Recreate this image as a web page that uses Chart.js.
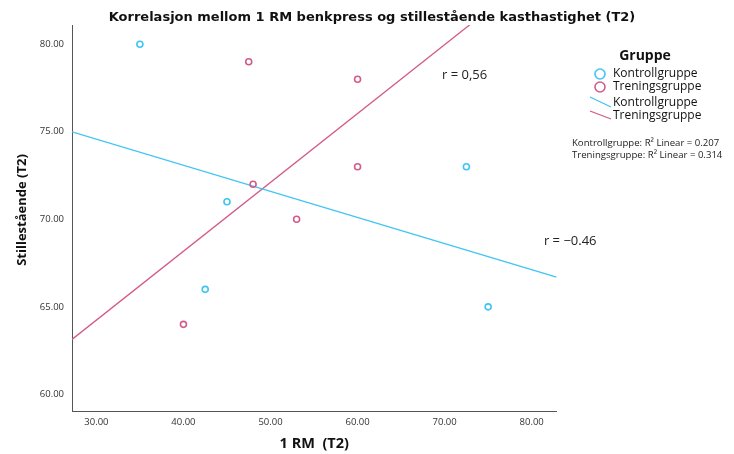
<!DOCTYPE html>
<html>
<head>
<meta charset="utf-8">
<script src="https://cdn.jsdelivr.net/npm/chart.js@4"></script>
<style>
  html, body { margin: 0; padding: 0; background: #fff; }
  #wrap { position: relative; width: 734px; height: 454px; }
</style>
</head>
<body>
<div id="wrap"><canvas id="c" width="734" height="454"></canvas></div>
<script>
// Group observations: 1 RM bench press (x) vs standing throwing velocity (y)
const kontrollX = [35, 42.5, 45, 72.5, 75];
const kontrollY = [80, 66, 71, 73, 65];
const treningX = [40, 47.5, 48, 53, 60, 60];
const treningY = [64, 79, 72, 70, 78, 73];

const xTicks = [30, 40, 50, 60, 70, 80];
const yTicks = [60, 65, 70, 75, 80];

const groupNames = ['Kontrollgruppe', 'Treningsgruppe'];
const rLabels = ['r = 0,56', 'r = \u22120.46'];
const r2Labels = ['Kontrollgruppe: R\u00B2 Linear = 0.207', 'Treningsgruppe: R\u00B2 Linear = 0.314'];

const titleText = 'Korrelasjon mellom 1 RM benkpress og stillest\u00E5ende kasthastighet (T2)';
const xTitle = '1 RM  (T2)';
const yTitle = 'Stillest\u00E5ende (T2)';

const CYAN = '#3fc4f4';
const MAGENTA = '#d25b8a';
const X_MIN = 27.2, X_MAX = 82.85;
const Y_MIN = 59.05, Y_MAX = 81.1;

function pairs(xs, ys) { return xs.map((x, i) => ({ x: x, y: ys[i] })); }

// Least-squares fit across the full x range of the axis
function fitLine(xs, ys) {
  const n = xs.length;
  const mx = xs.reduce((a, b) => a + b, 0) / n;
  const my = ys.reduce((a, b) => a + b, 0) / n;
  let sxy = 0, sxx = 0;
  for (let i = 0; i < n; i++) { sxy += (xs[i] - mx) * (ys[i] - my); sxx += (xs[i] - mx) ** 2; }
  const b = sxy / sxx, a = my - b * mx;
  return [{ x: X_MIN, y: a + b * X_MIN }, { x: X_MAX, y: a + b * X_MAX }];
}

const FONT = '"Open Sans", "DejaVu Sans", sans-serif';
const TFONT = '"DejaVu Sans", sans-serif';

const annotate = {
  id: 'annotate',
  afterDraw(chart) {
    const ctx = chart.ctx;
    const xs = chart.scales.x, ys = chart.scales.y;
    ctx.save();
    ctx.textBaseline = 'middle';

    // Title
    ctx.fillStyle = '#111';
    ctx.font = 'bold 13px ' + TFONT;
    ctx.textAlign = 'center';
    ctx.fillText(titleText, 372, 18);

    // Axis titles
    ctx.font = 'bold 14.5px ' + FONT;
    ctx.fillText(xTitle, (chart.chartArea.left + chart.chartArea.right) / 2, 444);
    ctx.save();
    ctx.translate(22, 210);
    ctx.rotate(-Math.PI / 2);
    ctx.font = 'bold 13px ' + FONT;
    ctx.fillText(yTitle, 0, 0);
    ctx.restore();

    // Correlation labels
    ctx.font = '13px ' + FONT;
    ctx.fillStyle = '#222';
    ctx.textAlign = 'left';
    ctx.fillText(rLabels[0], xs.getPixelForValue(69.7), ys.getPixelForValue(78.2));
    ctx.fillText(rLabels[1], xs.getPixelForValue(81.4), ys.getPixelForValue(68.74));

    // Legend
    ctx.fillStyle = '#111';
    ctx.font = 'bold 14px ' + FONT;
    ctx.textAlign = 'center';
    ctx.fillText('Gruppe', 645, 56);
    ctx.textAlign = 'left';
    ctx.font = '12px ' + FONT;
    const colors = [CYAN, MAGENTA];
    const rows = [74, 87];
    for (let i = 0; i < 2; i++) {
      ctx.strokeStyle = colors[i];
      ctx.lineWidth = 1.6;
      ctx.beginPath();
      ctx.arc(600, rows[i], 5, 0, Math.PI * 2);
      ctx.stroke();
      ctx.fillText(groupNames[i], 613, rows[i]);
    }
    const lineRows = [[97, 107, 103], [111, 119, 116]];
    for (let i = 0; i < 2; i++) {
      ctx.strokeStyle = colors[i];
      ctx.lineWidth = 1.3;
      ctx.beginPath();
      ctx.moveTo(590, lineRows[i][0]);
      ctx.lineTo(611, lineRows[i][1]);
      ctx.stroke();
      ctx.fillText(groupNames[i], 613, lineRows[i][2]);
    }
    ctx.font = '9.6px ' + FONT;
    ctx.fillStyle = '#222';
    ctx.fillText(r2Labels[0], 572, 143);
    ctx.fillText(r2Labels[1], 572, 155);
    ctx.restore();
  }
};

new Chart(document.getElementById('c'), {
  type: 'scatter',
  data: {
    datasets: [
      { label: groupNames[0], data: pairs(kontrollX, kontrollY), borderColor: CYAN, backgroundColor: 'rgba(0,0,0,0)',
        pointRadius: 3, pointBorderWidth: 1.6, pointHoverRadius: 3, order: 0 },
      { label: groupNames[1], data: pairs(treningX, treningY), borderColor: MAGENTA, backgroundColor: 'rgba(0,0,0,0)',
        pointRadius: 3, pointBorderWidth: 1.6, pointHoverRadius: 3, order: 0 },
      { type: 'line', label: groupNames[0], data: fitLine(kontrollX, kontrollY), borderColor: CYAN,
        borderWidth: 1.3, pointRadius: 0, fill: false, order: 1 },
      { type: 'line', label: groupNames[1], data: fitLine(treningX, treningY), borderColor: MAGENTA,
        borderWidth: 1.3, pointRadius: 0, fill: false, order: 1 }
    ]
  },
  options: {
    responsive: false,
    animation: false,
    events: [],
    layout: { padding: { top: 25, right: 177.5, bottom: 0, left: 0 } },
    plugins: { legend: { display: false }, title: { display: false }, tooltip: { enabled: false } },
    scales: {
      x: {
        type: 'linear', min: X_MIN, max: X_MAX,
        afterBuildTicks: s => { s.ticks = xTicks.map(v => ({ value: v })); },
        afterFit: s => { s.height = 43; },
        grid: { drawOnChartArea: false, drawTicks: false },
        border: { display: true, color: '#555', width: 1 },
        ticks: { padding: 6, color: '#333', font: { family: FONT, size: 9.5 }, maxRotation: 0,
                 callback: v => v.toFixed(2) }
      },
      y: {
        type: 'linear', min: Y_MIN, max: Y_MAX,
        afterBuildTicks: s => { s.ticks = yTicks.map(v => ({ value: v })); },
        afterFit: s => { s.width = 72; },
        grid: { drawOnChartArea: false, drawTicks: false },
        border: { display: true, color: '#555', width: 1 },
        ticks: { padding: 8, color: '#333', font: { family: FONT, size: 9.5 },
                 callback: v => v.toFixed(2) }
      }
    }
  },
  plugins: [annotate]
});
</script>
</body>
</html>
